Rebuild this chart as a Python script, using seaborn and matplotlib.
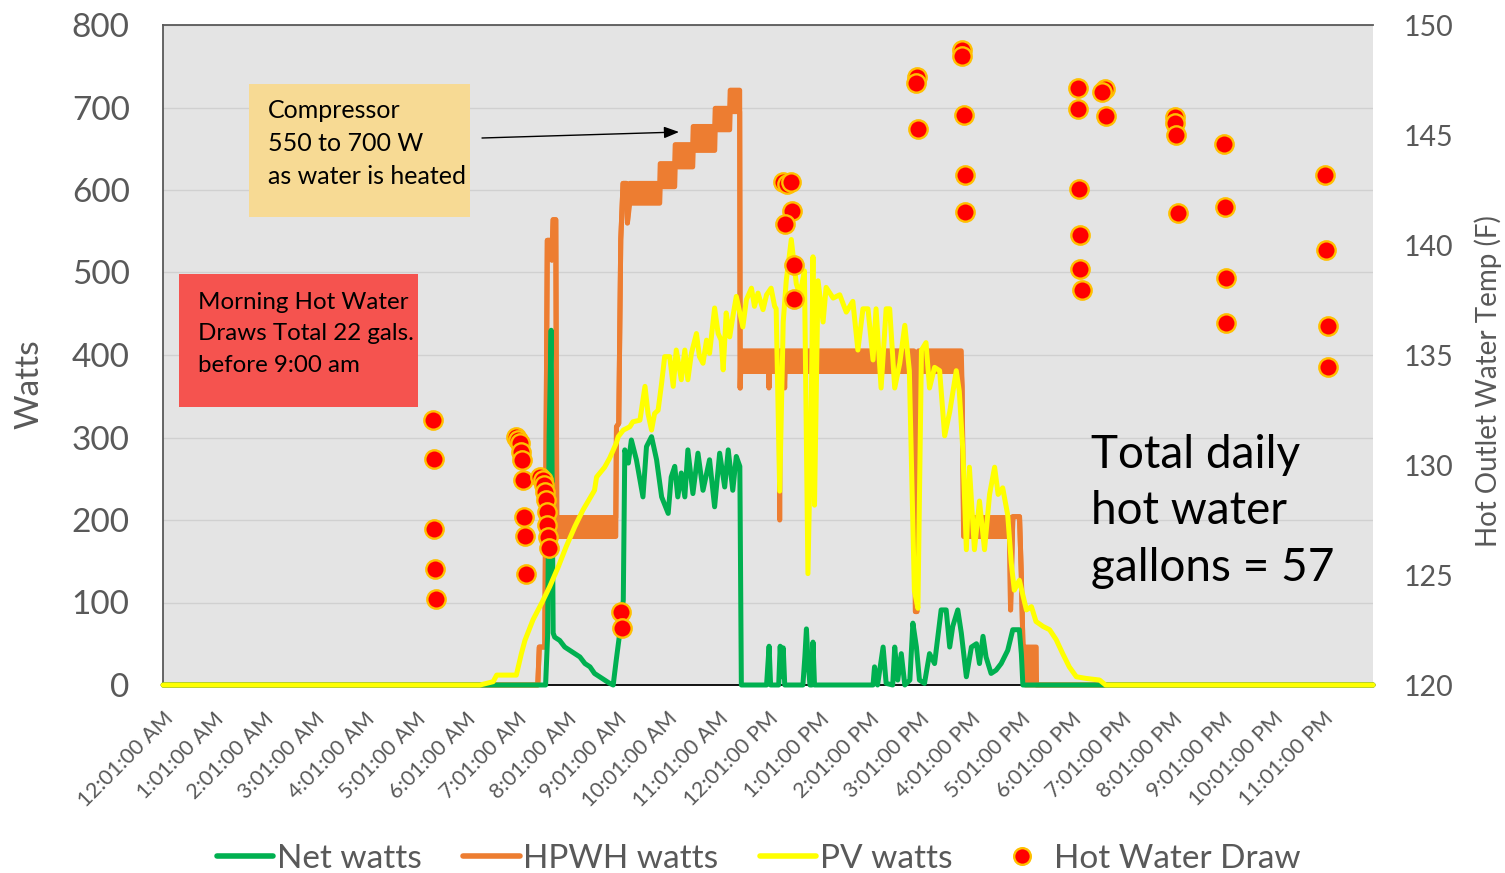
import matplotlib
matplotlib.use("Agg")
import matplotlib.pyplot as plt
from matplotlib.lines import Line2D
from matplotlib.patches import Rectangle
import seaborn as sns
import numpy as np

# ---------------- data (hours after midnight, watts / deg F) ----------------
tick_labels = ["12:01:00 AM"] + [f"{h}:01:00 AM" for h in range(1, 12)] + \
              ["12:01:00 PM"] + [f"{h}:01:00 PM" for h in range(1, 12)]

pv_hours = [0.02, 6.30, 6.56, 6.63, 7.02, 7.12, 7.19, 7.35, 7.52, 7.68,
            7.85, 8.01, 8.18, 8.34, 8.57, 8.61, 8.77, 8.87, 9.00, 9.04,
            9.14, 9.27, 9.33, 9.47, 9.57, 9.63, 9.70, 9.76, 9.83, 9.90,
            9.96, 10.06, 10.13, 10.19, 10.29, 10.36, 10.42, 10.49, 10.59, 10.65,
            10.72, 10.79, 10.85, 10.95, 11.02, 11.08, 11.12, 11.18, 11.25, 11.31,
            11.38, 11.45, 11.51, 11.58, 11.68, 11.74, 11.81, 11.91, 11.98, 12.07,
            12.14, 12.17, 12.24, 12.31, 12.37, 12.47, 12.57, 12.64, 12.73, 12.80,
            12.87, 12.90, 12.93, 13.00, 13.10, 13.16, 13.30, 13.43, 13.56, 13.69,
            13.79, 13.89, 13.99, 14.09, 14.15, 14.25, 14.35, 14.42, 14.52, 14.62,
            14.72, 14.81, 14.91, 14.98, 15.05, 15.14, 15.21, 15.31, 15.41, 15.51,
            15.61, 15.74, 15.80, 15.87, 15.94, 16.00, 16.10, 16.20, 16.30, 16.40,
            16.50, 16.57, 16.66, 16.76, 16.83, 16.89, 16.99, 17.13, 17.23, 17.32,
            17.46, 17.59, 17.72, 17.85, 17.98, 18.12, 18.31, 18.58, 18.70, 24.00]
pv_watts = [0, 0, 4, 12, 12, 38, 54, 79, 99, 119,
            143, 168, 192, 212, 236, 252, 264, 275, 293, 301,
            309, 313, 319, 321, 362, 329, 309, 329, 333, 366,
            398, 398, 362, 406, 370, 406, 370, 402, 426, 398,
            390, 418, 402, 457, 426, 418, 382, 451, 422, 446,
            471, 451, 434, 467, 481, 459, 475, 455, 473, 481,
            459, 456, 235, 440, 490, 540, 486, 473, 502, 135,
            356, 519, 218, 490, 440, 482, 469, 473, 452, 465,
            406, 456, 456, 394, 456, 360, 456, 456, 360, 390,
            436, 381, 114, 93, 406, 415, 360, 385, 381, 302,
            331, 381, 356, 285, 164, 264, 164, 223, 164, 231,
            264, 231, 239, 206, 148, 115, 127, 91, 95, 77,
            71, 67, 55, 38, 22, 10, 8, 6, 0, 0]

net_hours = [0.02, 7.60, 7.64, 7.67, 7.71, 7.75, 7.78, 7.88, 7.98, 8.08,
             8.18, 8.28, 8.38, 8.48, 8.57, 8.67, 8.77, 8.87, 8.94, 9.00,
             9.07, 9.14, 9.17, 9.24, 9.30, 9.40, 9.53, 9.60, 9.70, 9.80,
             9.90, 10.03, 10.09, 10.16, 10.22, 10.29, 10.36, 10.42, 10.52, 10.62,
             10.72, 10.85, 10.95, 11.05, 11.15, 11.22, 11.31, 11.38, 11.45, 11.48,
             11.98, 12.03, 12.06, 12.22, 12.25, 12.28, 12.31, 12.34, 12.70, 12.74,
             12.77, 12.80, 12.84, 12.88, 12.90, 12.93, 14.09, 14.12, 14.18, 14.29,
             14.35, 14.48, 14.52, 14.58, 14.65, 14.72, 14.82, 14.88, 14.95, 15.01,
             15.11, 15.21, 15.31, 15.44, 15.54, 15.61, 15.67, 15.77, 15.84, 15.94,
             16.04, 16.14, 16.20, 16.27, 16.33, 16.43, 16.53, 16.63, 16.76, 16.86,
             16.99, 17.03, 17.06, 24.00]
net_watts = [0, 0, 60, 300, 430, 63, 58, 54, 46, 42,
             38, 34, 26, 22, 14, 10, 6, 2, 0, 30,
             63, 103, 285, 269, 297, 273, 228, 289, 301, 273,
             228, 208, 252, 265, 228, 257, 228, 285, 232, 281,
             236, 273, 216, 281, 240, 285, 236, 277, 265, 0,
             0, 47, 0, 0, 47, 10, 45, 0, 0, 35,
             68, 30, 0, 0, 52, 0, 0, 22, 0, 46,
             2, 0, 46, 6, 38, 0, 6, 75, 46, 6,
             2, 38, 26, 91, 91, 46, 71, 91, 63, 10,
             46, 50, 26, 59, 34, 14, 18, 26, 42, 67,
             67, 38, 0, 0]

# HPWH power: the meter alternates rapidly between a low and a high reading
hpwh_hours = [0.02, 7.445, 7.475, 7.584, 7.634, 7.703, 7.723, 7.749, 7.802, 7.822,
              8.991, 9.005, 9.050, 9.090, 9.135, 9.202, 9.222, 9.268, 9.862, 9.872,
              10.159, 10.169, 10.516, 10.526, 10.952, 10.962, 11.249, 11.259, 11.447, 11.457,
              11.467, 12.018, 12.028, 12.038, 12.230, 12.240, 12.250, 12.329, 12.339, 12.349,
              14.900, 14.930, 14.960, 14.990, 15.839, 15.855, 15.885, 16.796, 16.816, 16.861,
              16.994, 17.028, 17.059, 17.093, 17.113, 17.325, 17.331, 24.00]
hpwh_low = [0, 0, 46, 46, 539, 539, 515, 564, 564, 180,
            180, 313, 317, 540, 608, 608, 560, 584, 584, 604,
            604, 628, 628, 648, 648, 673, 673, 695, 695, 360,
            380, 380, 360, 380, 380, 200, 380, 380, 360, 380,
            380, 89, 89, 380, 380, 362, 180, 180, 91, 204,
            204, 136, 55, 6, 0, 0, 0, 0]
hpwh_high = [0, 0, 46, 46, 539, 539, 515, 564, 564, 203,
             203, 313, 317, 540, 608, 608, 560, 608, 608, 632,
             632, 655, 655, 677, 677, 699, 699, 721, 721, 360,
             405, 405, 405, 405, 405, 405, 405, 405, 405, 405,
             405, 89, 89, 405, 405, 362, 203, 203, 91, 204,
             204, 136, 55, 6, 46, 46, 0, 0]

hwd_hours = [5.37, 5.38, 5.38, 5.40, 5.42,
             7.02, 7.05, 7.09, 7.12, 7.14, 7.15, 7.17, 7.20, 7.22,
             7.48, 7.55, 7.56, 7.58, 7.60, 7.62, 7.62, 7.65, 7.67,
             9.09, 9.12,
             12.30, 12.38, 12.47, 12.49, 12.34, 12.52, 12.52,
             14.97, 14.95, 14.98,
             15.86, 15.86, 15.89, 15.92, 15.92,
             18.16, 18.16, 18.18, 18.20, 18.20, 18.23,
             18.68, 18.63, 18.71,
             20.08, 20.08, 20.10, 20.13,
             21.04, 21.07, 21.09, 21.09,
             23.05, 23.07, 23.10, 23.10]
hwd_temp = [132.05, 130.27, 127.09, 125.27, 123.91,
            131.29, 131.14, 130.99, 130.60, 130.23, 129.32, 127.65, 126.79, 125.03,
            129.47, 129.32, 129.09, 128.79, 128.41, 127.88, 127.27, 126.74, 126.21,
            123.30, 122.60,
            142.85, 142.77, 142.85, 141.55, 140.95, 139.08, 137.56,
            147.62, 147.35, 145.29,
            148.86, 148.60, 145.91, 143.18, 141.50,
            147.15, 146.17, 142.56, 140.45, 138.90, 137.95,
            147.10, 146.97, 145.86,
            145.80, 145.53, 144.99, 141.44,
            144.59, 141.74, 138.49, 136.44,
            143.18, 139.77, 136.33, 134.47]

# ---------------- style ----------------
sns.set_style("white")
plt.rcParams["font.family"] = ["Lato", "DejaVu Sans"]

GREEN = "#00B050"
ORANGE = "#ED7D31"
YELLOW = "#FFFF00"
GRAY = "#595959"
LW = 3.6

W, H = 1505, 873
fig = plt.figure(figsize=(W / 100, H / 100), dpi=100)
L, R, T, B = 163, 1373, 25, 685
ax = fig.add_axes([L / W, 1 - B / H, (R - L) / W, (B - T) / H])
ax.set_facecolor("#E4E4E4")

# HPWH band
ax.fill_between(hpwh_hours, hpwh_low, hpwh_high, color=ORANGE, linewidth=0, zorder=2)
sns.lineplot(x=hpwh_hours, y=hpwh_low, ax=ax, color=ORANGE, linewidth=LW,
             estimator=None, sort=False, zorder=2)
sns.lineplot(x=hpwh_hours, y=hpwh_high, ax=ax, color=ORANGE, linewidth=LW,
             estimator=None, sort=False, zorder=2)
sns.lineplot(x=net_hours, y=net_watts, ax=ax, color=GREEN, linewidth=LW,
             estimator=None, sort=False, zorder=3)
sns.lineplot(x=pv_hours, y=pv_watts, ax=ax, color=YELLOW, linewidth=LW,
             estimator=None, sort=False, zorder=4)
for ln in ax.get_lines():
    ln.set_clip_on(False)
    ln.set_solid_joinstyle("round")

ax.set_xlim(1 / 60, 24.0)
ax.set_ylim(0, 800)
ax.set_yticks(range(0, 801, 100))
ax.yaxis.grid(True, color="#D0D0D0", linewidth=1.0)
ax.set_axisbelow(True)
ax.set_xticks([h + 1 / 60 for h in range(24)])
ax.set_xticklabels(tick_labels, rotation=45, ha="right", rotation_mode="anchor",
                   fontsize=15.5, color=GRAY)
ax.tick_params(axis="x", direction="out", length=7, width=1.2, color="black", pad=10)
ax.tick_params(axis="y", length=0, labelsize=24, labelcolor=GRAY, pad=24)
for s in ["left", "top"]:
    ax.spines[s].set_color("#595959")
    ax.spines[s].set_linewidth(1.3)
ax.spines["bottom"].set_color("black")
ax.spines["bottom"].set_linewidth(1.3)
ax.spines["right"].set_visible(False)
ax.set_xlabel("")
ax.set_ylabel("Watts", fontsize=24, color=GRAY)
ax.yaxis.set_label_coords((44 - L) / (R - L), (B - 384) / (B - T))

# hot water draws on right axis
ax2 = ax.twinx()
sns.scatterplot(x=hwd_hours, y=hwd_temp, ax=ax2, s=175, color="#FF0000",
                edgecolor="#FFC000", linewidth=1.7, zorder=5, legend=False)
ax2.set_ylim(120, 150)
ax2.set_yticks(range(120, 151, 5))
ax2.tick_params(axis="y", length=0, labelsize=20.5, labelcolor=GRAY, pad=22)
for s in ax2.spines.values():
    s.set_visible(False)
ax2.set_ylabel("Hot Outlet Water Temp (F)", fontsize=20, color=GRAY)
ax2.yaxis.set_label_coords((1474 - L) / (R - L), (B - 381) / (B - T))
ax2.set_xlim(1 / 60, 24.0)

def af(px, py):
    return ((px - L) / (R - L), (B - py) / (B - T))

# annotation boxes
x0, y0 = af(249, 217)
x1, y1 = af(470, 84)
ax2.add_patch(Rectangle((x0, y0), x1 - x0, y1 - y0, transform=ax2.transAxes,
                        facecolor="#F7DA94", edgecolor="none", zorder=6))
tx, ty = af(268, 143.5)
ax2.text(tx, ty, "Compressor\n550 to 700 W\nas water is heated", transform=ax2.transAxes,
         fontsize=18, color="black", va="center", ha="left", linespacing=1.55, zorder=7)

x0, y0 = af(179, 407)
x1, y1 = af(418, 274)
ax2.add_patch(Rectangle((x0, y0), x1 - x0, y1 - y0, transform=ax2.transAxes,
                        facecolor="#F5534F", edgecolor="none", zorder=6))
tx, ty = af(198, 334)
ax2.text(tx, ty, "Morning Hot Water\nDraws Total 22 gals.\nbefore 9:00 am", transform=ax2.transAxes,
         fontsize=17.4, color="black", va="center", ha="left", linespacing=1.6, zorder=7)

tx, ty = af(1091, 511.5)
ax2.text(tx, ty, "Total daily\nhot water\ngallons = 57", transform=ax2.transAxes,
         fontsize=33, color="black", va="center", ha="left", linespacing=1.44, zorder=7)

ax2.annotate("", xy=af(679, 132), xytext=af(482, 138), xycoords="axes fraction",
             textcoords="axes fraction",
             arrowprops=dict(arrowstyle="-|>,head_length=0.9,head_width=0.35",
                             color="black", lw=1.0, shrinkA=0, shrinkB=0), zorder=7)

# legend
handles = [Line2D([], [], color=GREEN, lw=4),
           Line2D([], [], color=ORANGE, lw=4),
           Line2D([], [], color=YELLOW, lw=4),
           Line2D([], [], color="none", marker="o", markersize=12,
                  markerfacecolor="#FF0000", markeredgecolor="#FFC000", markeredgewidth=1.7)]
labels = ["Net watts", "HPWH watts", "PV watts", "Hot Water Draw"]
fig.legend(handles, labels, loc="center", bbox_to_anchor=(0.504, 1 - 859 / H), ncol=4,
           frameon=False, fontsize=24, labelcolor=GRAY, handlelength=1.7,
           handletextpad=0.1, columnspacing=1.25, borderaxespad=0)

fig.savefig("out.png", dpi=100, facecolor="white")
